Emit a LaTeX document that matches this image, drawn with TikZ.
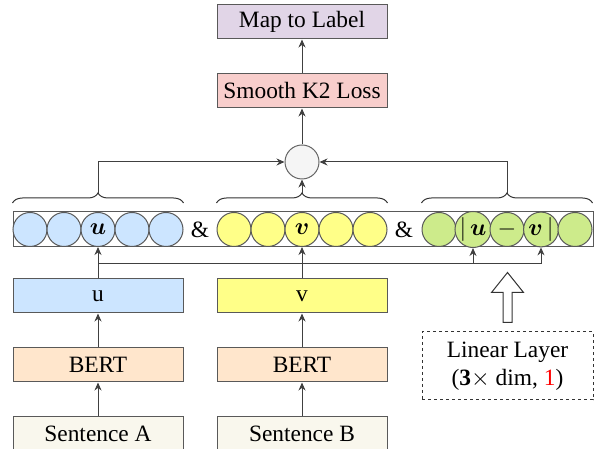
\documentclass[tikz,border=0pt]{standalone}
\usepackage{fontspec}
\usepackage{amsmath}
\usepackage{amsfonts}
\usepackage{amsbsy}
\setmainfont{Liberation Serif}
\usetikzlibrary{positioning,arrows.meta,decorations.pathreplacing}

\definecolor{ublue}{HTML}{CCE5FF}
\definecolor{vyellow}{HTML}{FFFF88}
\definecolor{dgreen}{HTML}{CDEB8B}
\definecolor{bertorange}{HTML}{FFE6CC}
\definecolor{sentcream}{HTML}{F9F7ED}
\definecolor{losspink}{HTML}{F8CECC}
\definecolor{mappurple}{HTML}{E1D5E7}
\definecolor{sumgray}{HTML}{F5F5F5}

\tikzset{
	block/.style={draw=black!65, line width=0.5pt, minimum width=85pt, minimum height=17pt, inner sep=0pt, font=\fontsize{11.7pt}{14pt}\selectfont},
	cell/.style={circle, draw=black!65, line width=0.5pt, minimum size=17pt, inner sep=0pt, font=\fontsize{11.7pt}{14pt}\selectfont},
	link/.style={draw=black!75, line width=0.5pt, -{Stealth[length=4pt,width=3.5pt]}},
	curly/.style={draw=black!80, line width=0.5pt, decorate, decoration={brace, amplitude=5pt}},
}

\begin{document}
\begin{tikzpicture}[x=1pt, y=1pt]
				\useasboundingbox (0,0) rectangle (297,224.5);
				% sentence encoders
				\node[block, fill=sentcream] (sa) at (49,7.5) {Sentence A};
				\node[block, fill=bertorange, above=17pt of sa] (bertA) {BERT};
				\node[block, fill=ublue, above=17pt of bertA] (u) {u};
				\node[block, fill=sentcream] (sb) at (151,7.5) {Sentence B};
				\node[block, fill=bertorange, above=17pt of sb] (bertB) {BERT};
				\node[block, fill=vyellow, above=17pt of bertB] (v) {v};
				% concatenated vector
				\node[draw=black!65, line width=0.5pt, minimum width=290pt, minimum height=17.5pt, inner sep=0pt] (row) at (151.5,109.75) {};
				\foreach \i/\t in {1/{},2/{},3/{$\boldsymbol{u}$},4/{},5/{}}
					\node[cell, fill=ublue] (a\i) at (-2+17*\i,109.75) {\t};
				\foreach \i/\t in {1/{},2/{},3/{$\boldsymbol{v}$},4/{},5/{}}
					\node[cell, fill=vyellow] (b\i) at (100+17*\i,109.75) {\t};
				\foreach \i/\t in {1/{},2/{$|\,\boldsymbol{u}$},3/{$-$},4/{$\boldsymbol{v}\,|$},5/{}}
					\node[cell, fill=dgreen] (c\i) at (202.5+17*\i,109.75) {\t};
				\node[font=\fontsize{11.7pt}{14pt}\selectfont] (amp1) at (100,109.75) {\&};
				\node[font=\fontsize{11.7pt}{14pt}\selectfont] (amp2) at (202,109.75) {\&};
				% braces and aggregation
				\draw[curly] (a1.west |- 0,123) -- (a5.east |- 0,123);
				\draw[curly] (b1.west |- 0,123) -- (b5.east |- 0,123);
				\draw[curly] (c1.west |- 0,123) -- (c5.east |- 0,123);
				\coordinate (bA) at (a3 |- 0,128);
				\coordinate (bB) at (b3 |- 0,128);
				\coordinate (bC) at (c3 |- 0,128);
				\node[circle, draw=black!60, line width=0.5pt, fill=sumgray, minimum size=17pt, inner sep=0pt] (sum) at (151,143.5) {};
				\node[block, fill=losspink, above=18pt of sum] (loss) {Smooth K2 Loss};
				\node[block, fill=mappurple, above=17pt of loss] (map) {Map to Label};
				% linear layer
				\node[draw=black!80, line width=0.5pt, dash pattern=on 1.5pt off 1.5pt, minimum width=85.5pt, minimum height=34pt, align=center, font=\fontsize{11.7pt}{14pt}\selectfont] (lin) at (253.75,41.5) {Linear Layer\\(\textbf{3}$\times$ dim, \textcolor{red}{1})};
				\draw[draw=black!80, line width=0.5pt, fill=white] ([xshift=-2.25pt, yshift=4.5pt]lin.north) -- ++(0,15) -- ++(-5.75,0) -- ++(8,10) -- ++(8,-10) -- ++(-5.75,0) -- ++(0,-15) -- cycle;
				% connectors
				\coordinate (bus) at (0,92.75);
				\draw[link] (sa) -- (bertA);
				\draw[link] (bertA) -- (u);
				\draw[link] (sb) -- (bertB);
				\draw[link] (bertB) -- (v);
				\draw[link] (u) -- (a3);
				\draw[link] (v) -- (b3);
				\draw[link] (u.north) -- (u.north |- bus) -| (c2);
				\draw[link] (v.north) -- (v.north |- bus) -| (c4);
				\draw[link] (bA) |- (sum);
				\draw[link] (bB) -- (sum);
				\draw[link] (bC) |- (sum);
				\draw[link] (sum) -- (loss);
				\draw[link] (loss) -- (map);
\end{tikzpicture}
\end{document}
